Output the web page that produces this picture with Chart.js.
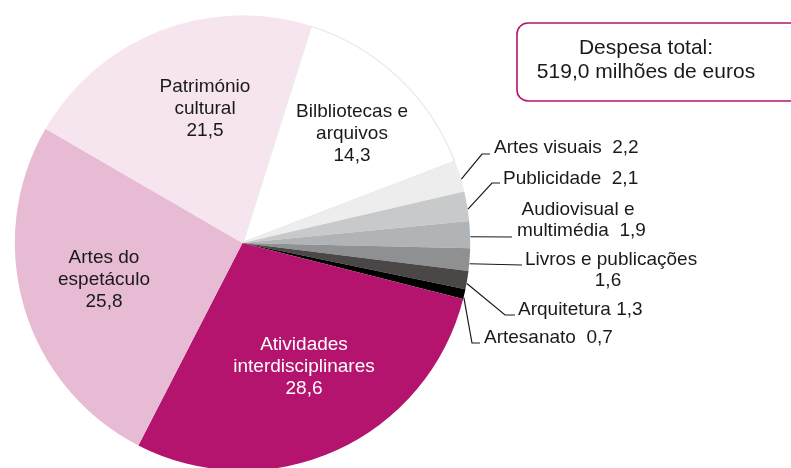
<!DOCTYPE html>
<html lang="pt">
<head>
<meta charset="utf-8">
<title>Despesa em cultura por domínio</title>
<script src="https://cdn.jsdelivr.net/npm/chart.js@4/dist/chart.umd.min.js"></script>
<style>
  html, body { margin: 0; padding: 0; background: #ffffff; overflow: hidden; }
  #wrap { width: 791px; height: 468px; overflow: hidden; position: relative; }
  canvas { display: block; }
</style>
</head>
<body>
<div id="wrap"><canvas id="c" width="791" height="480"></canvas></div>
<script>
// Domínios culturais (ordem no sentido dos ponteiros do relógio)
const categories = [
  'Bilbliotecas e arquivos', 'Artes visuais', 'Publicidade',
  'Audiovisual e multimédia', 'Livros e publicações', 'Arquitetura',
  'Artesanato', 'Atividades interdisciplinares', 'Artes do espetáculo',
  'Património cultural'
];
// Peso de cada domínio na despesa total (%)
const shares = [14.3, 2.2, 2.1, 1.9, 1.6, 1.3, 0.7, 28.6, 25.8, 21.5];
const totalTitle = 'Despesa total:';
const totalValue = '519,0 milhões de euros';

const sliceColors = [
  '#ffffff', '#ededed', '#c8c9ca', '#b1b4b7', '#8f9092',
  '#4b4747', '#000000', '#b5146e', '#e7bbd3', '#f6e5ee'
];

const fmt = v => v.toFixed(1).replace('.', ',');
const FONT = '19px "Liberation Sans", Arial, sans-serif';
const BOX_FONT = '21px "Liberation Sans", Arial, sans-serif';

// Etiquetas dentro das fatias: linhas de texto e centro do bloco
const innerLabels = [
  { i: 0, x: 352, y: 112, lines: ['Bilbliotecas e', 'arquivos', '#v'], color: '#1a1a1a' },
  { i: 9, x: 205, y: 87,  lines: ['Património', 'cultural', '#v'], color: '#1a1a1a' },
  { i: 8, x: 104, y: 258, lines: ['Artes do', 'espetáculo', '#v'], color: '#1a1a1a' },
  { i: 7, x: 304, y: 345, lines: ['Atividades', 'interdisciplinares', '#v'], color: '#ffffff' }
];

// Etiquetas exteriores com linha de chamada
const outerLabels = [
  { i: 1, f: 0.6, path: [[482, 154], [490, 154]],
    texts: [{ t: 'Artes visuais  #v', x: 494, y: 148, a: 'left' }] },
  { i: 2, f: 0.6, path: [[492, 183], [500, 183]],
    texts: [{ t: 'Publicidade  #v', x: 503, y: 179, a: 'left' }] },
  { i: 3, f: 0.58, path: [[512, 237]],
    texts: [{ t: 'Audiovisual e', x: 578, y: 210, a: 'center' },
            { t: 'multimédia  #v', x: 517, y: 231, a: 'left' }] },
  { i: 4, f: 0.68, path: [[522, 265]],
    texts: [{ t: 'Livros e publicações', x: 525, y: 260, a: 'left' },
            { t: '#v', x: 608, y: 281, a: 'center' }] },
  { i: 5, f: 0.68, path: [[505, 315], [515, 315]],
    texts: [{ t: 'Arquitetura #v', x: 518, y: 310, a: 'left' }] },
  { i: 6, f: 0.84, path: [[472, 343], [480, 343]],
    texts: [{ t: 'Artesanato  #v', x: 484, y: 338, a: 'left' }] }
];

function roundRect(ctx, x, y, w, h, r) {
  ctx.beginPath();
  ctx.moveTo(x + r, y);
  ctx.lineTo(x + w - r, y);
  ctx.arcTo(x + w, y, x + w, y + r, r);
  ctx.lineTo(x + w, y + h - r);
  ctx.arcTo(x + w, y + h, x + w - r, y + h, r);
  ctx.lineTo(x + r, y + h);
  ctx.arcTo(x, y + h, x, y + h - r, r);
  ctx.lineTo(x, y + r);
  ctx.arcTo(x, y, x + r, y, r);
  ctx.closePath();
}

const labelPlugin = {
  id: 'sliceLabels',
  afterDatasetsDraw(chart) {
    const ctx = chart.ctx;
    const arcs = chart.getDatasetMeta(0).data;
    ctx.save();
    ctx.font = FONT;
    ctx.textBaseline = 'middle';

    innerLabels.forEach(l => {
      ctx.fillStyle = l.color;
      ctx.textAlign = 'center';
      l.lines.forEach((s, k) => {
        ctx.fillText(s.replace('#v', fmt(shares[l.i])), l.x, l.y + k * 22);
      });
    });

    outerLabels.forEach(l => {
      const arc = arcs[l.i];
      const p = arc.getProps(['x', 'y', 'startAngle', 'endAngle', 'outerRadius'], true);
      const ang = p.startAngle + l.f * (p.endAngle - p.startAngle);
      const sx = p.x + Math.cos(ang) * p.outerRadius;
      const sy = p.y + Math.sin(ang) * p.outerRadius;
      ctx.strokeStyle = '#1a1a1a';
      ctx.lineWidth = 1.2;
      ctx.beginPath();
      ctx.moveTo(sx, sy);
      l.path.forEach(pt => ctx.lineTo(pt[0], pt[1]));
      ctx.stroke();
      ctx.fillStyle = '#1a1a1a';
      l.texts.forEach(tx => {
        ctx.textAlign = tx.a;
        ctx.fillText(tx.t.replace('#v', fmt(shares[l.i])), tx.x, tx.y);
      });
    });

    // Caixa com a despesa total
    roundRect(ctx, 517, 23, 290, 78, 11);
    ctx.fillStyle = '#ffffff';
    ctx.fill();
    ctx.strokeStyle = '#b5146e';
    ctx.lineWidth = 1.6;
    ctx.stroke();
    ctx.font = BOX_FONT;
    ctx.fillStyle = '#1a1a1a';
    ctx.textAlign = 'center';
    ctx.fillText(totalTitle, 646, 48);
    ctx.fillText(totalValue, 646, 72);
    ctx.restore();
  }
};

new Chart(document.getElementById('c'), {
  type: 'pie',
  data: {
    labels: categories,
    datasets: [{
      data: shares,
      backgroundColor: sliceColors,
      borderColor: sliceColors.map((c, k) => k === 0 ? '#e9e9e9' : c),
      borderWidth: shares.map((v, k) => k === 0 ? 1 : 0),
      borderAlign: 'inner',
      hoverOffset: 0,
      offset: 0
    }]
  },
  options: {
    responsive: false,
    animation: false,
    events: [],
    rotation: 17.5,
    layout: { padding: { left: 14, right: 320, top: 15, bottom: 9 } },
    plugins: {
      legend: { display: false },
      tooltip: { enabled: false },
      title: { display: false }
    }
  },
  plugins: [labelPlugin]
});
</script>
</body>
</html>
